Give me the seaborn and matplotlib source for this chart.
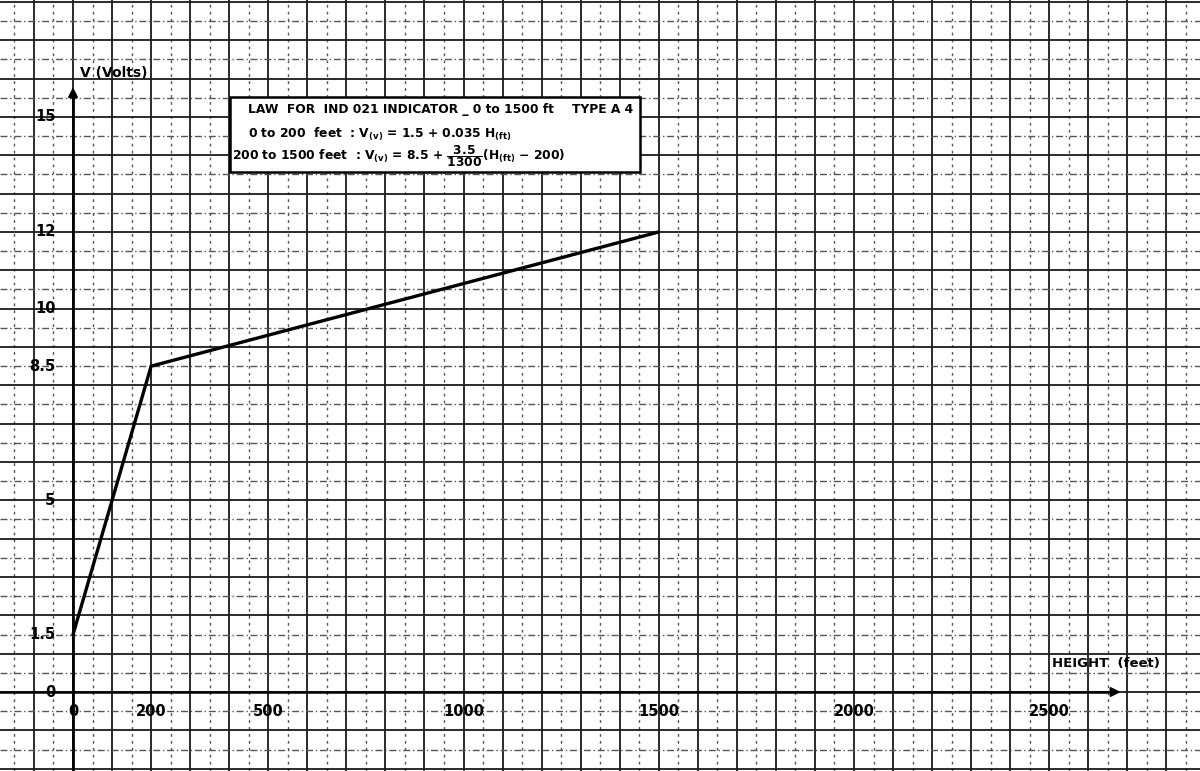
import numpy as np
import pandas as pd
import matplotlib
matplotlib.use("Agg")
import matplotlib.pyplot as plt
from matplotlib.patches import Rectangle
import seaborn as sns

# law of the indicator: break points (feet, volts)
height_ft = [0, 200, 1500]
volts = [1.5, 8.5, 12]

# tick labels written on the graph paper
x_label_vals = [0, 200, 500, 1000, 1500, 2000, 2500]
y_label_vals = [0, 1.5, 5, 8.5, 10, 12, 15]
y_label_txt = ["0", "1.5", "5", "8.5", "10", "12", "15"]

title_line = "LAW  FOR  IND 021 INDICATOR _ 0 to 1500 ft"
type_line = "TYPE A 4"
law_1 = r"0 to 200  feet  : V$_{(v)}$ = 1.5 + 0.035 H$_{(ft)}$"
law_2 = r"200 to 1500 feet  : V$_{(v)}$ = 8.5 + $\dfrac{3.5}{1300}$(H$_{(ft)}$ $-$ 200)"

sns.set_theme(style="white")
plt.rcParams["font.family"] = ["DejaVu Sans"]
plt.rcParams["mathtext.fontset"] = "dejavusans"
plt.rcParams["mathtext.default"] = "bf"

fig = plt.figure(figsize=(12, 7.71), dpi=100)
ax = fig.add_axes([0, 0, 1, 1])
ax.set_xlim(-187, 2886)
ax.set_ylim(-2.06, 18.05)
for s in ax.spines.values():
    s.set_visible(False)

# graph paper grid
ax.set_xticks(np.arange(-100, 2900, 100))
ax.set_xticks(np.arange(-150, 2900, 100), minor=True)
ax.set_yticks(np.arange(-2, 19, 1))
ax.set_yticks(np.arange(-1.5, 18.5, 1), minor=True)
ax.tick_params(which="both", length=0, labelbottom=False, labelleft=False)
ax.grid(which="major", color="#1a1a1a", lw=1.3, ls="-")
ax.xaxis.grid(which="minor", color="#555555", lw=1.0, ls=(0, (2, 3)))
ax.yaxis.grid(which="minor", color="#555555", lw=1.0, ls=(0, (5, 2, 1, 2)))
ax.set_axisbelow(True)

# axes with arrows
ax.plot([0, 0], [-2.06, 15.5], color="black", lw=2.0, zorder=3)
ax.annotate("", xy=(0, 15.85), xytext=(0, 15.3),
            arrowprops=dict(arrowstyle="-|>", color="black", lw=1.5, mutation_scale=14), zorder=3)
ax.plot([-187, 2650], [0, 0], color="black", lw=1.8, zorder=3)
ax.annotate("", xy=(2690, 0), xytext=(2600, 0),
            arrowprops=dict(arrowstyle="-|>", color="black", lw=1.5, mutation_scale=14), zorder=3)

df = pd.DataFrame({"Height (ft)": height_ft, "V (Volts)": volts})
sns.lineplot(data=df, x="Height (ft)", y="V (Volts)", ax=ax, color="black",
             lw=2.4, zorder=4, sort=False)
ax.set_xlabel("")
ax.set_ylabel("")

txt_kw = dict(color="black", zorder=6)
for v, t in zip(y_label_vals, y_label_txt):
    ax.text(-45, v, t, ha="right", va="center", fontsize=10.5, fontweight="bold", **txt_kw)
for h in x_label_vals:
    ax.text(h, -0.52, str(h), ha="center", va="center", fontsize=10.5, fontweight="bold", **txt_kw)

ax.text(18, 16.15, "V (Volts)", ha="left", va="center", fontsize=10, fontweight="bold", **txt_kw)
ax.text(2507, 0.74, "HEIGHT  (feet)", ha="left", va="center", fontsize=9.5,
        fontweight="bold", **txt_kw)

# law box
ax.add_patch(Rectangle((402, 13.57), 1050, 1.95, facecolor="white", edgecolor="black",
                       lw=1.8, zorder=5))
box_kw = dict(ha="left", va="center", fontsize=8.8, fontweight="bold", **txt_kw)
ax.text(448, 15.2, title_line, **box_kw)
ax.text(1278, 15.2, type_line, **box_kw)
ax.text(448, 14.55, law_1, **box_kw)
ax.text(407, 13.98, law_2, **box_kw)

fig.savefig("out.png", dpi=100)
